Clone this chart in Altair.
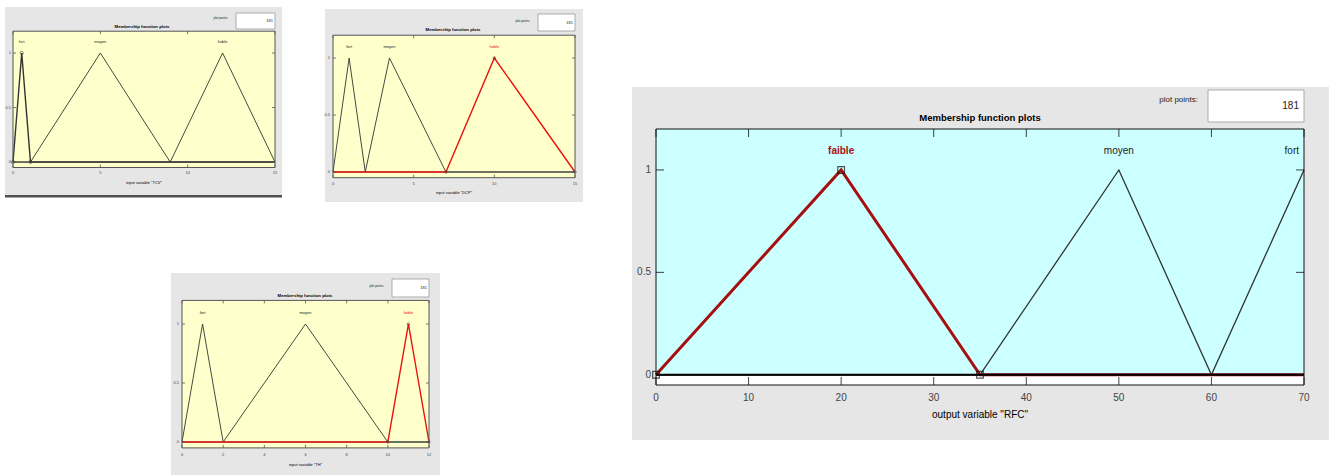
import altair as alt
import pandas as pd

FONT = "Liberation Sans Narrow, Liberation Sans, Arial, sans-serif"

# ---------------- data ----------------
y_ticks = [0, 0.5, 1]
y_tick_labels = ["0", "0.5", "1"]
plot_points = "181"

# input variable "TCV"
tcv_names = ["fort", "moyen", "faible"]
tcv_params = [[0, 0.5, 1], [1, 5, 9], [9, 12, 15]]
tcv_xticks = [0, 5, 10, 15]

# input variable "DCP"
dcp_names = ["fort", "moyen", "faible"]
dcp_params = [[0, 1, 2], [2, 3.5, 7], [7, 10, 15]]
dcp_xticks = [0, 5, 10, 15]

# input variable "TH"
th_names = ["fort", "moyen", "faible"]
th_params = [[0, 1, 2], [2, 6, 10], [10, 11, 12]]
th_xticks = [0, 2, 4, 6, 8, 10, 12]

# output variable "RFC"
rfc_names = ["faible", "moyen", "fort"]
rfc_params = [[0, 20, 35], [35, 50, 60], [60, 70, 80]]
rfc_xticks = [0, 10, 20, 30, 40, 50, 60, 70]

GRAY = "#e6e6e6"
TXT = "#222222"

small = dict(fs_tick=4, fs_title=4.3, fs_lab=4, fs_pp=3, fs_181=4, tick_len=3,
             line_w=0.9, sel_w=1.4, line_col="#333333", border="#555555")

panels = [
    dict(names=tcv_names, params=tcv_params, xticks=tcv_xticks, domain=[0, 15],
         sel="fort", sel_col="#333333", sel_bold=False, marker="circle", msize=10,
         var='input variable "TCV"', bg="#ffffcc", below="#ffffcc",
         frame=(5, 282, 7, 195), shadow=(5, 282, 195, 197.5),
         plot=(13, 275, 167.5, 31.2), title=(142, 27), pp=(228, 18),
         box=(236, 275, 13, 29), lab_y=42, xt_y=173, xtitle_y=183, yt_x=11,
         **small),
    dict(names=dcp_names, params=dcp_params, xticks=dcp_xticks, domain=[0, 15],
         sel="faible", sel_col="#e81010", sel_bold=False, marker="circle", msize=6,
         var='input variable "DCP"', bg="#ffffcc", below="#ffffcc",
         frame=(325, 583, 9, 202), shadow=None,
         plot=(333, 575, 177.7, 35.2), title=(453, 30), pp=(530, 21),
         box=(538, 575, 14, 31), lab_y=47, xt_y=184, xtitle_y=193, yt_x=330,
         **small),
    dict(names=th_names, params=th_params, xticks=th_xticks, domain=[0, 12],
         sel="faible", sel_col="#e81010", sel_bold=False, marker="circle", msize=6,
         var='input variable "TH"', bg="#ffffcc", below="#ffffcc",
         frame=(171, 440, 273, 475), shadow=None,
         plot=(182, 429, 447.9, 300.4), title=(305, 296), pp=(384, 286),
         box=(392, 429, 279, 297), lab_y=313, xt_y=455, xtitle_y=465, yt_x=179,
         **small),
    dict(names=rfc_names, params=rfc_params, xticks=rfc_xticks, domain=[0, 70],
         sel="faible", sel_col="#a50f0f", sel_bold=True, marker="square", msize=45,
         var='output variable "RFC"', bg="#ccffff", below="#ffffff",
         frame=(632, 1329, 87, 440), shadow=None,
         plot=(656, 1304, 385, 129), title=(980, 118), pp=(1198, 100),
         box=(1208, 1304, 90, 122), lab_y=151, xt_y=398, xtitle_y=415, yt_x=651,
         fs_tick=10, fs_title=9.5, fs_lab=10, fs_pp=8, fs_181=10, tick_len=8,
         line_w=1.3, sel_w=3, line_col="#333333", border="#111111", baseline=True),
]


def membership(x, a, b, c):
    if x == b:
        return 1.0
    if a < x < b:
        return (x - a) / (b - a)
    if b < x < c:
        return (c - x) / (c - b)
    return 0.0


def mf_polyline(a, b, c, lo, hi):
    pts = []
    for x in [lo, a, b, c, hi]:
        xc = min(max(x, lo), hi)
        pt = (xc, membership(xc, a, b, c))
        if not pts or pts[-1] != pt:
            pts.append(pt)
    return pts


ONE = pd.DataFrame({"k": [0]})


def px_rect(x0, x1, y0, y1, **kw):
    return alt.Chart(ONE).mark_rect(**kw).encode(
        x=alt.value(x0), x2=alt.value(x1), y=alt.value(y0), y2=alt.value(y1))


def px_text(x, y, text, **kw):
    return alt.Chart(ONE).mark_text(font=FONT, text=text, **kw).encode(
        x=alt.value(x), y=alt.value(y))


def panel_layer(p):
    lo, hi = p["domain"]
    px0, px1, pyb, pyt = p["plot"]
    xs = alt.Scale(domain=[lo, hi], range=[px0, px1], nice=False, zero=False)
    ys = alt.Scale(domain=[-0.05, 1.2], range=[pyb, pyt], nice=False, zero=False)
    X = lambda f: alt.X(f, scale=xs, axis=None)
    Y = lambda f: alt.Y(f, scale=ys, axis=None)

    rows, marks = [], []
    for name, (a, b, c) in zip(p["names"], p["params"]):
        for i, (x, y) in enumerate(mf_polyline(a, b, c, lo, hi)):
            rows.append({"mf": name, "i": i, "x": x, "y": y})
        if name == p["sel"]:
            for x, y in [(a, 0), (b, 1), (c, 0)]:
                if lo <= x <= hi:
                    marks.append({"x": x, "y": y})
    mf_df = pd.DataFrame(rows)
    mk_df = pd.DataFrame(marks)
    lab_df = pd.DataFrame({"mf": p["names"], "b": [q[1] for q in p["params"]]})
    xt_df = pd.DataFrame({"v": p["xticks"], "lab": [str(v) for v in p["xticks"]]})
    yt_df = pd.DataFrame({"v": y_ticks, "lab": y_tick_labels})

    layers = []
    f = p["frame"]
    layers.append(px_rect(*f, color=GRAY))
    if p["shadow"]:
        layers.append(px_rect(*p["shadow"], color="#505050"))

    # plot area
    layers.append(alt.Chart(ONE).mark_rect(color=p["bg"]).encode(
        x=alt.XDatum(lo, scale=xs, axis=None), x2=alt.X2Datum(hi),
        y=alt.YDatum(0, scale=ys, axis=None), y2=alt.Y2Datum(1.2)))
    layers.append(alt.Chart(ONE).mark_rect(color=p["below"]).encode(
        x=alt.XDatum(lo, scale=xs, axis=None), x2=alt.X2Datum(hi),
        y=alt.YDatum(-0.05, scale=ys, axis=None), y2=alt.Y2Datum(0)))

    # title, plot points box
    tx, ty = p["title"]
    layers.append(px_text(tx, ty, "Membership function plots", fontSize=p["fs_title"],
                          fontWeight="bold", color="#000000", baseline="middle"))
    ppx, ppy = p["pp"]
    layers.append(px_text(ppx, ppy, "plot points:", fontSize=p["fs_pp"], color=TXT,
                          align="right", baseline="middle"))
    b0, b1, b2, b3 = p["box"]
    layers.append(px_rect(b0, b1, b2, b3, color="#ffffff", stroke="#9a9a9a", strokeWidth=0.8))
    layers.append(px_text(b1 - p["fs_181"] * 0.5, (b2 + b3) / 2, plot_points,
                          fontSize=p["fs_181"], color=TXT, align="right", baseline="middle"))

    # membership functions
    enc = dict(x=X("x:Q"), y=Y("y:Q"), detail="mf:N", order="i:Q")
    others = alt.Chart(mf_df).transform_filter(alt.datum.mf != p["sel"]).mark_line(
        color=p["line_col"], strokeWidth=p["line_w"]).encode(**enc)
    chosen = alt.Chart(mf_df).transform_filter(alt.datum.mf == p["sel"]).mark_line(
        color=p["sel_col"], strokeWidth=p["sel_w"]).encode(**enc)
    layers += [others, chosen]
    if p.get("baseline"):
        layers.append(alt.Chart(ONE).mark_rule(color="#000000", strokeWidth=2).encode(
            x=alt.XDatum(lo, scale=xs, axis=None), x2=alt.X2Datum(hi),
            y=alt.YDatum(0, scale=ys, axis=None)))

    # vertex markers of the selected function
    if p["marker"] == "square":
        layers.append(alt.Chart(mk_df).mark_point(shape="square", size=p["msize"], filled=False,
                                                  color="#111111", strokeWidth=1.2)
                      .encode(x=X("x:Q"), y=Y("y:Q")))
    else:
        layers.append(alt.Chart(mk_df).mark_point(shape="circle", size=p["msize"], filled=False,
                                                  color="#333333", strokeWidth=0.8)
                      .encode(x=X("x:Q"), y=Y("y:Q")))

    # labels above the peaks
    col = alt.condition(alt.datum.mf == p["sel"], alt.value(p["sel_col"]), alt.value(TXT))
    wt = "bold" if p["sel_bold"] else "normal"
    centre = alt.Chart(lab_df).transform_filter(alt.datum.b < hi)
    layers.append(centre.transform_filter(alt.datum.mf != p["sel"]).mark_text(
        font=FONT, fontSize=p["fs_lab"], baseline="middle").encode(
        x=X("b:Q"), y=alt.value(p["lab_y"]), text="mf:N", color=alt.value(TXT)))
    layers.append(centre.transform_filter(alt.datum.mf == p["sel"]).mark_text(
        font=FONT, fontSize=p["fs_lab"], baseline="middle", fontWeight=wt).encode(
        x=X("b:Q"), y=alt.value(p["lab_y"]), text="mf:N", color=alt.value(p["sel_col"])))
    layers.append(alt.Chart(lab_df).transform_filter(alt.datum.b >= hi).mark_text(
        font=FONT, fontSize=p["fs_lab"], baseline="middle", align="right", dx=-p["fs_lab"] * 0.5).encode(
        x=X("b:Q"), y=alt.value(p["lab_y"]), text="mf:N", color=col))

    # inward ticks on all four sides
    L = p["tick_len"]
    tick_kw = dict(color=p["border"], strokeWidth=0.8)
    layers.append(alt.Chart(xt_df).mark_rule(**tick_kw).encode(
        x=X("v:Q"), y=alt.value(pyt), y2=alt.value(pyt + L)))
    layers.append(alt.Chart(xt_df).mark_rule(**tick_kw).encode(
        x=X("v:Q"), y=alt.value(pyb), y2=alt.value(pyb - L)))
    layers.append(alt.Chart(yt_df).mark_rule(**tick_kw).encode(
        y=Y("v:Q"), x=alt.value(px0), x2=alt.value(px0 + L)))
    layers.append(alt.Chart(yt_df).mark_rule(**tick_kw).encode(
        y=Y("v:Q"), x=alt.value(px1), x2=alt.value(px1 - L)))

    # tick labels and axis title
    layers.append(alt.Chart(xt_df).mark_text(font=FONT, fontSize=p["fs_tick"], color="#444444",
                                             baseline="middle").encode(
        x=X("v:Q"), y=alt.value(p["xt_y"]), text="lab:N"))
    layers.append(alt.Chart(yt_df).mark_text(font=FONT, fontSize=p["fs_tick"], color="#444444",
                                             baseline="middle", align="right").encode(
        y=Y("v:Q"), x=alt.value(p["yt_x"]), text="lab:N"))
    layers.append(px_text((px0 + px1) / 2, p["xtitle_y"], p["var"], fontSize=p["fs_tick"],
                          color="#000000", baseline="middle"))

    # plot box
    layers.append(alt.Chart(ONE).mark_rect(fillOpacity=0, stroke=p["border"], strokeWidth=1).encode(
        x=alt.XDatum(lo, scale=xs, axis=None), x2=alt.X2Datum(hi),
        y=alt.YDatum(-0.05, scale=ys, axis=None), y2=alt.Y2Datum(1.2)))

    return alt.layer(*layers)


chart = (
    alt.layer(*[panel_layer(p) for p in panels])
    .resolve_scale(x="independent", y="independent")
    .properties(width=1332, height=475, padding=0, autosize="none", background="#ffffff")
    .configure_view(stroke=None)
)

chart.save("out.html", embed_options={"renderer": "svg", "actions": False})
